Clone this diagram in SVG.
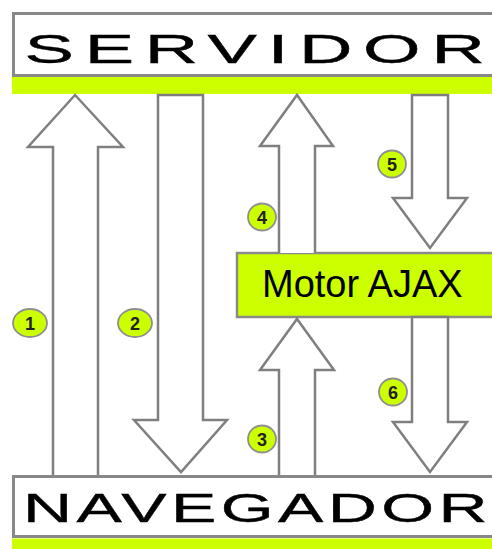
<svg xmlns="http://www.w3.org/2000/svg" width="492" height="549" viewBox="0 0 492 549">
  <style>
    .box { fill: #ffffff; stroke: #888888; stroke-width: 3; }
    .band { fill: #CCFF00; }
    .big { font-family: "Liberation Sans", Arial, sans-serif; font-size: 40px; fill: #000000; stroke: #000000; stroke-width: 0.4; }
    .motor { fill: #CCFF00; stroke: #8a8a8a; stroke-width: 2.5; }
    .motortxt { font-family: "Liberation Sans", Arial, sans-serif; font-size: 38px; fill: #000000; }
    .arrow { fill: #ffffff; stroke: #7f7f7f; stroke-width: 2.5; stroke-linejoin: miter; }
    .badge { fill: #CCFF00; stroke: #8f8f8f; stroke-width: 1.8; }
    .num { font-family: "Liberation Sans", Arial, sans-serif; font-size: 18px; font-weight: bold; fill: #222222; text-anchor: middle; }
  </style>
  <rect width="492" height="549" fill="#ffffff"/>

  <g id="servidor">
    <rect class="box" x="13.5" y="13.5" width="490" height="62"/>
    <rect class="band" x="12" y="77" width="480" height="17"/>
    <g transform="translate(24.6,63) scale(1.85,1)">
      <text class="big" x="0" y="0" letter-spacing="5.8">SERVIDO<tspan letter-spacing="0">R</tspan></text>
    </g>
  </g>

  <g id="navegador">
    <rect class="box" x="13.5" y="476.5" width="490" height="60"/>
    <rect class="band" x="12" y="538.5" width="480" height="11"/>
    <g transform="translate(23,522) scale(1.7,1)">
      <text class="big" x="0" y="0" letter-spacing="2.6">NAVEGADO<tspan letter-spacing="0">R</tspan></text>
    </g>
  </g>

  <g id="motor-ajax">
    <rect class="motor" x="237" y="253" width="270" height="64"/>
    <text class="motortxt" x="262" y="297">Motor AJAX</text>
  </g>

  <g id="connectors">
    <path id="arrow1" class="arrow" d="M53,475 L53,147 L28,147 L75,95 L123,147 L98,147 L98,475"/>
    <path id="arrow2" class="arrow" d="M158,95 L203,95 L203,420 L227,420 L181,472 L134,420 L158,420 Z"/>
    <path id="arrow4" class="arrow" d="M279,253 L279,146 L260,146 L297,95 L333,146 L315,146 L315,253"/>
    <path id="arrow5" class="arrow" d="M412,95 L448,95 L448,198 L467,198 L430,248 L393,198 L412,198 Z"/>
    <path id="arrow3" class="arrow" d="M279,475 L279,370 L260,370 L297,319 L334,370 L315,370 L315,475"/>
    <path id="arrow6" class="arrow" d="M412,317 L448,317 L448,422 L467,422 L430,472 L393,422 L412,422 Z"/>
  </g>

  <g id="badge1"><ellipse class="badge" cx="30" cy="323" rx="17" ry="14"/><text class="num" x="30" y="329.5">1</text></g>
  <g id="badge2"><ellipse class="badge" cx="135" cy="323" rx="17" ry="14"/><text class="num" x="135" y="329.5">2</text></g>
  <g id="badge3"><ellipse class="badge" cx="262" cy="439" rx="14" ry="13.5"/><text class="num" x="262" y="445.5">3</text></g>
  <g id="badge4"><ellipse class="badge" cx="262" cy="217" rx="14" ry="13.5"/><text class="num" x="262" y="223.5">4</text></g>
  <g id="badge5"><ellipse class="badge" cx="392" cy="164" rx="14" ry="13.5"/><text class="num" x="392" y="170.5">5</text></g>
  <g id="badge6"><ellipse class="badge" cx="393" cy="392" rx="14" ry="13.5"/><text class="num" x="393" y="398.5">6</text></g>
</svg>
